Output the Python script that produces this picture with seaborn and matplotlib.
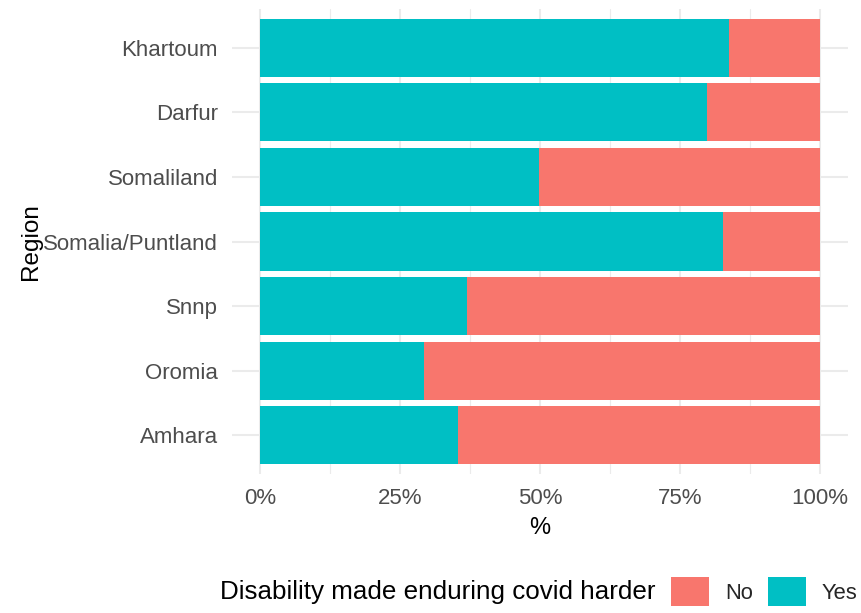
import matplotlib
matplotlib.use("Agg")
import matplotlib.pyplot as plt
import seaborn as sns
import pandas as pd
from matplotlib.patches import Patch
from matplotlib.ticker import FixedLocator

regions = ["Khartoum", "Darfur", "Somaliland", "Somalia/Puntland", "Snnp", "Oromia", "Amhara"]
yes_pct = [83.8, 79.9, 49.8, 82.6, 36.9, 29.2, 35.3]
no_pct = [16.2, 20.1, 50.2, 17.4, 63.1, 70.8, 64.7]
answers = ["No", "Yes"]
colors = {"No": "#F8766D", "Yes": "#00BFC4"}
x_ticks = [0, 25, 50, 75, 100]
x_tick_labels = ["0%", "25%", "50%", "75%", "100%"]

df = pd.DataFrame({"Region": regions, "Yes": yes_pct, "No": no_pct})
df["Total"] = df["Yes"] + df["No"]

sns.set_theme(style="white")
plt.rcParams["font.family"] = ["Liberation Sans", "DejaVu Sans"]

fig = plt.figure(figsize=(8.61, 6.13), dpi=100)
ax = fig.add_axes([232 / 861, 1 - 474 / 613, 616 / 861, 465 / 613])

sns.barplot(data=df, x="Total", y="Region", order=regions, color=colors["No"],
            width=0.9, errorbar=None, ax=ax, saturation=1, linewidth=0)
sns.barplot(data=df, x="Yes", y="Region", order=regions, color=colors["Yes"],
            width=0.9, errorbar=None, ax=ax, saturation=1, linewidth=0)

ax.set_xlim(-5, 105)
ax.set_ylim(len(regions) - 0.4, -0.6)
ax.xaxis.set_major_locator(FixedLocator(x_ticks))
ax.set_xticklabels(x_tick_labels)
ax.xaxis.set_minor_locator(FixedLocator([12.5, 37.5, 62.5, 87.5]))
ax.set_axisbelow(True)
ax.grid(True, which="major", axis="both", color="#EBEBEB", linewidth=1.5)
ax.grid(True, which="minor", axis="x", color="#EBEBEB", linewidth=0.8)
for s in ax.spines.values():
    s.set_visible(False)
ax.tick_params(axis="both", which="both", length=0, labelsize=16, labelcolor="#4D4D4D")
ax.tick_params(axis="y", pad=10)
ax.tick_params(axis="x", pad=10)
ax.set_xlabel("%", fontsize=17, color="black", labelpad=6)
ax.set_ylabel("Region", fontsize=17.5, color="black", labelpad=1)

handles = [Patch(facecolor=colors[a], edgecolor="none") for a in answers]
fig.legend(handles, answers, ncol=2, loc="center left",
           bbox_to_anchor=(671 / 861, 1 - 591.5 / 613), frameon=False,
           fontsize=15.8, handlelength=1.75, handleheight=1.6,
           handletextpad=0.7, columnspacing=0.7, borderpad=0, borderaxespad=0)
fig.text(220 / 861, 1 - 592 / 613, "Disability made enduring covid harder",
         fontsize=18.7, ha="left", va="center", color="black")

fig.savefig("out.png", dpi=100)
